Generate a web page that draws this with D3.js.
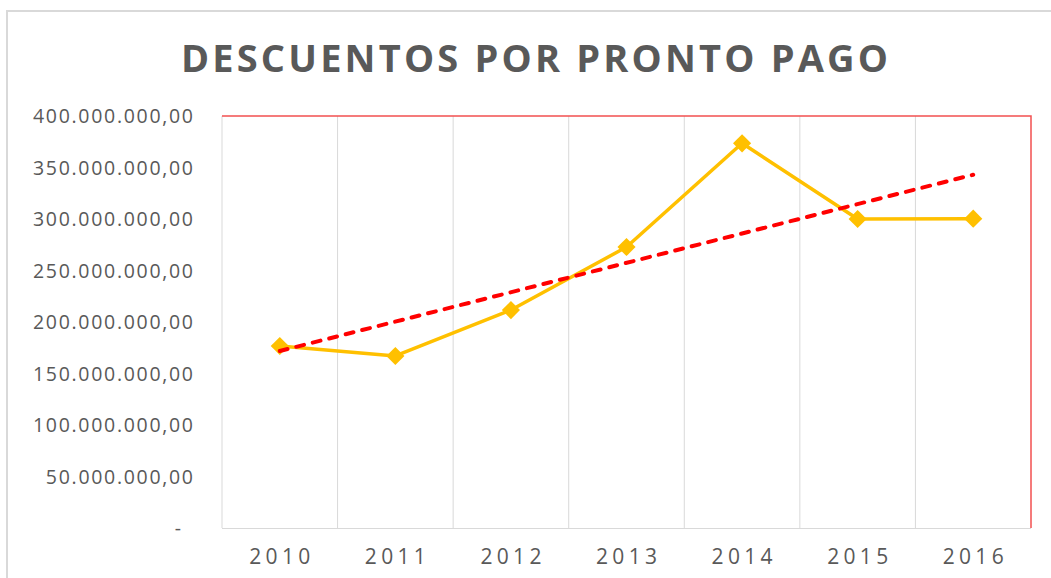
<!DOCTYPE html>
<html>
<head>
<meta charset="utf-8">
<script src="https://cdn.jsdelivr.net/npm/d3@7"></script>
<style>
  html, body { margin: 0; padding: 0; background: #fff; }
  svg { display: block; }
</style>
</head>
<body>
<svg id="chart" width="1051" height="578"></svg>
<script>
// ---- data ----
const years = ["2010", "2011", "2012", "2013", "2014", "2015", "2016"];
const descuentos = [176700000, 167000000, 211600000, 272800000, 373500000, 300000000, 300300000];
const yTicks = [0, 50000000, 100000000, 150000000, 200000000, 250000000, 300000000, 350000000, 400000000];
const titleText = "DESCUENTOS POR PRONTO PAGO";

// ---- layout ----
const W = 1051, H = 578;
const plot = { left: 222, right: 1031, top: 116, bottom: 528 };
const svg = d3.select("#chart");

// outer chart frame
svg.append("rect")
  .attr("x", 7).attr("y", 11)
  .attr("width", W + 20).attr("height", H + 20)
  .attr("fill", "#fff").attr("stroke", "#d9d9d9").attr("stroke-width", 2);

const x = d3.scaleBand().domain(years).range([plot.left, plot.right]).padding(0);
const y = d3.scaleLinear().domain([0, 400000000]).range([plot.bottom, plot.top]);

// vertical gridlines (category boundaries)
const bounds = years.map(d => x(d)).concat([plot.right]);
svg.append("g").selectAll("line").data(bounds.slice(0, -1)).join("line")
  .attr("x1", d => d).attr("x2", d => d)
  .attr("y1", plot.top).attr("y2", plot.bottom)
  .attr("stroke", "#d9d9d9").attr("stroke-width", 1);

// bottom axis line
svg.append("line")
  .attr("x1", plot.left).attr("x2", plot.right)
  .attr("y1", plot.bottom + 0.5).attr("y2", plot.bottom + 0.5)
  .attr("stroke", "#d9d9d9").attr("stroke-width", 1);

// red plot border (top + right)
svg.append("path")
  .attr("d", `M${plot.left},${plot.top} H${plot.right} V${plot.bottom}`)
  .attr("fill", "none").attr("stroke", "#f25050").attr("stroke-width", 1.5);

// ---- y axis labels ----
const fmt = v => {
  if (v === 0) return "-";
  const s = d3.format(",.2f")(v);
  return s.replace(/,/g, "#").replace(/\./g, ",").replace(/#/g, ".");
};
const yAxis = d3.axisLeft(y).tickValues(yTicks).tickFormat(fmt).tickSize(0).tickPadding(0);
const gy = svg.append("g").attr("transform", `translate(193,0)`).call(yAxis);
gy.select(".domain").remove();
gy.selectAll("text")
  .attr("fill", "#595959")
  .style("font-family", "'Open Sans', sans-serif")
  .style("font-size", "19.5px")
  .attr("dy", "0.35em");
// letter spacing to match widths
{
  const texts = gy.selectAll("text").nodes();
  const widest = texts.find(t => t.textContent === "400.000.000,00");
  const w0 = widest.getComputedTextLength();
  const ls = (160 - w0) / 13;
  texts.forEach(t => {
    const n = t.textContent.length;
    if (t.textContent === "-") {
      d3.select(t).attr("x", -12);
    } else {
      const w = t.getComputedTextLength();
      d3.select(t).attr("textLength", w + ls * (n - 1)).attr("lengthAdjust", "spacing");
    }
  });
}

// ---- x axis labels ----
const xAxis = d3.axisBottom(x).tickSize(0).tickPadding(0);
const gx = svg.append("g").attr("transform", `translate(0,${plot.bottom})`).call(xAxis);
gx.select(".domain").remove();
gx.selectAll("text")
  .attr("fill", "#595959")
  .attr("y", 29)
  .attr("dy", "0.35em")
  .style("font-family", "'Open Sans', sans-serif")
  .style("font-size", "21px")
  .each(function () {
    const w = this.getComputedTextLength();
    d3.select(this).attr("textLength", Math.max(w, 61)).attr("lengthAdjust", "spacing");
  });

// ---- data line ----
const cx = d => x(d) + x.bandwidth() / 2;
const pts = years.map((d, i) => ({ year: d, value: descuentos[i] }));
svg.append("path")
  .datum(pts)
  .attr("fill", "none")
  .attr("stroke", "#ffc000")
  .attr("stroke-width", 3.5)
  .attr("stroke-linejoin", "round")
  .attr("d", d3.line().x(d => cx(d.year)).y(d => y(d.value)));

svg.append("g").selectAll("path").data(pts).join("path")
  .attr("d", d3.symbol().type(d3.symbolSquare).size(165))
  .attr("transform", d => `translate(${cx(d.year)},${y(d.value)}) rotate(45)`)
  .attr("fill", "#ffc000");

// ---- linear trendline (least squares on the series) ----
const n = descuentos.length;
const idx = d3.range(n);
const mx = d3.mean(idx), my = d3.mean(descuentos);
const slope = d3.sum(idx, i => (i - mx) * (descuentos[i] - my)) / d3.sum(idx, i => (i - mx) * (i - mx));
const icpt = my - slope * mx;
const trend = [0, n - 1].map(i => ({ year: years[i], value: icpt + slope * i }));
svg.append("path")
  .datum(trend)
  .attr("fill", "none")
  .attr("stroke", "#ff0000")
  .attr("stroke-width", 4)
  .attr("stroke-dasharray", "8,9")
  .attr("stroke-linecap", "round")
  .attr("d", d3.line().x(d => cx(d.year)).y(d => y(d.value)));

// ---- title ----
const title = svg.append("text")
  .attr("x", 534.5).attr("y", 59)
  .attr("text-anchor", "middle")
  .attr("dy", "0.35em")
  .attr("fill", "#595959")
  .style("font-family", "'Open Sans', sans-serif")
  .style("font-weight", "bold")
  .style("font-size", "38px")
  .text(titleText);
title.attr("textLength", 707).attr("lengthAdjust", "spacing");
</script>
</body>
</html>
